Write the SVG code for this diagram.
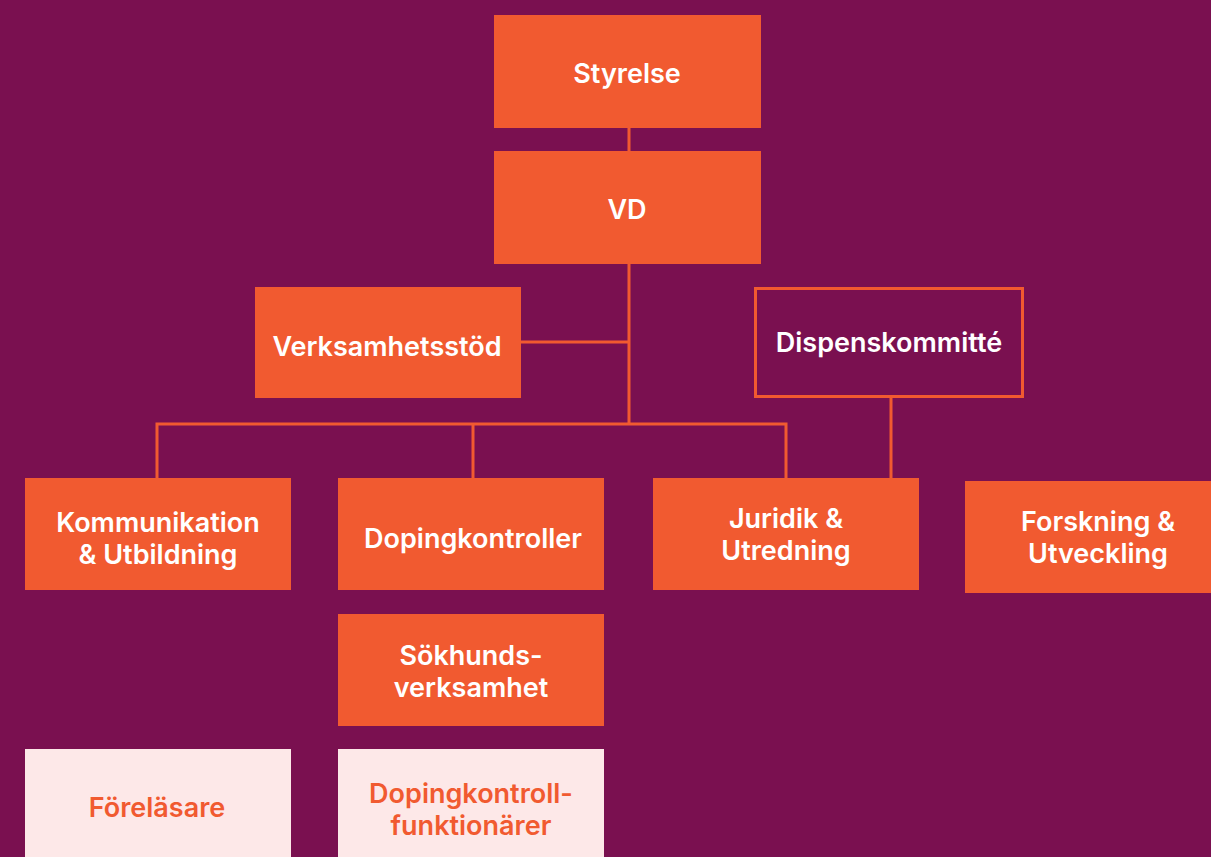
<svg xmlns="http://www.w3.org/2000/svg" width="1211" height="857" viewBox="0 0 1211 857">
<style>
.b{fill:#F15A30}
.l{fill:#FDE8E8}
.o{fill:#7A1050;stroke:#F15A30;stroke-width:3}
text{font-family:Inter,"Liberation Sans",sans-serif;font-size:27px;font-weight:600;text-anchor:middle;dominant-baseline:central}
.w{fill:#FFFFFF}
.r{fill:#F15A30}
#conn path{fill:none;stroke:#F15A30;stroke-width:3}
</style>
<rect width="1211" height="857" fill="#7A1050"/>
<g id="conn">
<path d="M629 128V151"/>
<path d="M629 264V424"/>
<path d="M521 342H629"/>
<path d="M157 478V424H786V478"/>
<path d="M473 424V478"/>
<path d="M891 397V478"/>
</g>
<g id="styrelse"><rect class="b" x="494" y="15" width="267" height="113"/><text class="w" x="627" y="73">Styrelse</text></g>
<g id="vd"><rect class="b" x="494" y="151" width="267" height="113"/><text class="w" x="627" y="209">VD</text></g>
<g id="verksamhetsstod"><rect class="b" x="255" y="287" width="266" height="111"/><text class="w" x="387" y="346">Verksamhetsstöd</text></g>
<g id="dispenskommitte"><rect class="o" x="755.5" y="288.5" width="267" height="108"/><text class="w" x="889" y="342">Dispenskommitté</text></g>
<g id="kommunikation"><rect class="b" x="25" y="478" width="266" height="112"/><text class="w" x="158" y="522">Kommunikation</text><text class="w" x="158" y="554">&amp; Utbildning</text></g>
<g id="dopingkontroller"><rect class="b" x="338" y="478" width="266" height="112"/><text class="w" x="473" y="538">Dopingkontroller</text></g>
<g id="juridik"><rect class="b" x="653" y="478" width="266" height="112"/><text class="w" x="786" y="518">Juridik &amp;</text><text class="w" x="786" y="550">Utredning</text></g>
<g id="forskning"><rect class="b" x="965" y="481" width="266" height="112"/><text class="w" x="1098" y="521">Forskning &amp;</text><text class="w" x="1098" y="553">Utveckling</text></g>
<g id="sokhunds"><rect class="b" x="338" y="614" width="266" height="112"/><text class="w" x="471" y="655">Sökhunds-</text><text class="w" x="471" y="687">verksamhet</text></g>
<g id="forelasare"><rect class="l" x="25" y="749" width="266" height="108"/><text class="r" x="157" y="807">Föreläsare</text></g>
<g id="dopingkontrollfunktionarer"><rect class="l" x="338" y="749" width="266" height="108"/><text class="r" x="471" y="793">Dopingkontroll-</text><text class="r" x="471" y="825">funktionärer</text></g>
</svg>
